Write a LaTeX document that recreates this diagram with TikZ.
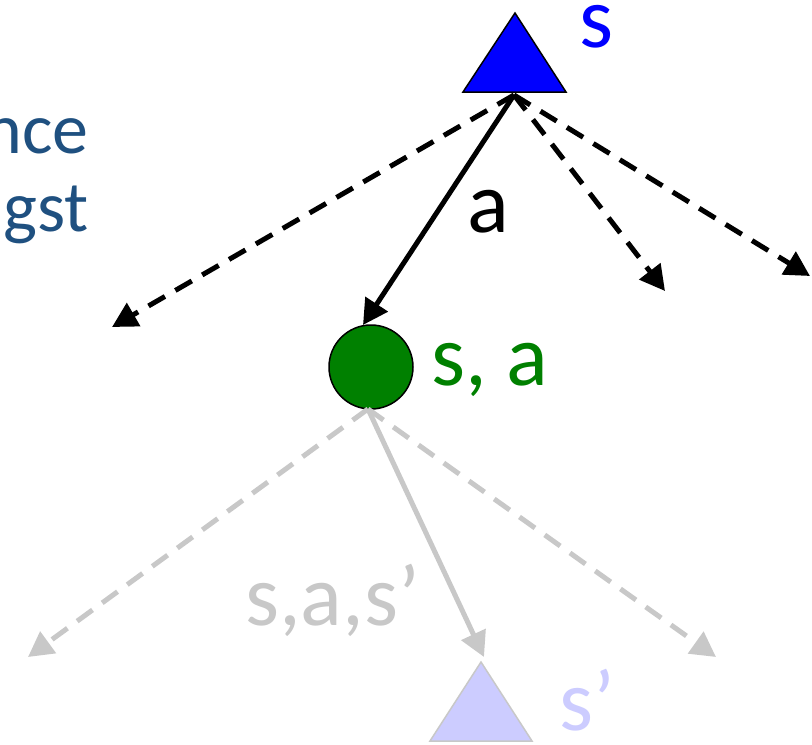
\documentclass[tikz,border=0pt]{standalone}
\usepackage{fontspec}
\setmainfont{Carlito}
\usetikzlibrary{arrows.meta}
\definecolor{sblue}{RGB}{0,0,255}
\definecolor{sgreen}{RGB}{0,128,0}
\definecolor{lav}{RGB}{204,204,255}
\definecolor{gry}{RGB}{200,200,200}
\definecolor{navy}{RGB}{31,80,128}
\tikzset{
  arr/.style={line width=5pt,-{Triangle[length=25pt,width=26pt]}},
  dsh/.style={arr,dash pattern=on 19pt off 12pt},
  lbl/.style={font=\fontsize{87}{104}\selectfont,inner sep=0pt,anchor=base west},
  side/.style={font=\fontsize{72}{86}\selectfont,inner sep=0pt,text=navy,anchor=base east},
}
\begin{document}
\begin{tikzpicture}[x=1pt,y=-1pt]
\useasboundingbox (0,0) rectangle (812,745);
% top triangle
\fill[sblue,draw=black,line width=1.5pt] (515,13) -- (566,92) -- (463,92) -- cycle;
\coordinate (stop) at (514,95);
\node[lbl,text=sblue] (slab) at (579,47) {s};
% circle
\node[circle,fill=sgreen,draw=black,line width=1.5pt,minimum size=84pt,inner sep=0pt] (sa) at (371,367) {};
\node[lbl,text=sgreen] (salab) at (431,385) {s, a};
% bottom triangle
\fill[lav,draw=gry,line width=1.5pt] (481,662) -- (532,741) -- (430,741) -- cycle;
\coordinate (sptop) at (484,657);
\node[lbl,text=lav] (splab) at (559,730) {s’};
% free ends
\coordinate (e1) at (112,327);
\coordinate (e2) at (665,291);
\coordinate (e3) at (810,276);
\coordinate (g1) at (28,657);
\coordinate (g3) at (716,657);
\coordinate (sabot) at (368,409);
% black connectors
\draw[dsh] (stop) -- (e1);
\draw[dsh] (stop) -- (e2);
\draw[dsh] (stop) -- (e3);
\draw[arr] (stop) -- (363,325) coordinate (satip);
\node[lbl,text=black] (alab) at (467,232) {a};
% grey connectors
\draw[dsh,gry] (sabot) -- (g1);
\draw[dsh,gry] (sabot) -- (g3);
\draw[arr,gry] (sabot) -- (sptop);
\node[lbl,text=gry] (saslab) at (245,625) {s,a,s’};
% left text
\node[side] (t1) at (89,153) {nce};
\node[side] (t2) at (89,231) {gst};
\end{tikzpicture}
\end{document}
